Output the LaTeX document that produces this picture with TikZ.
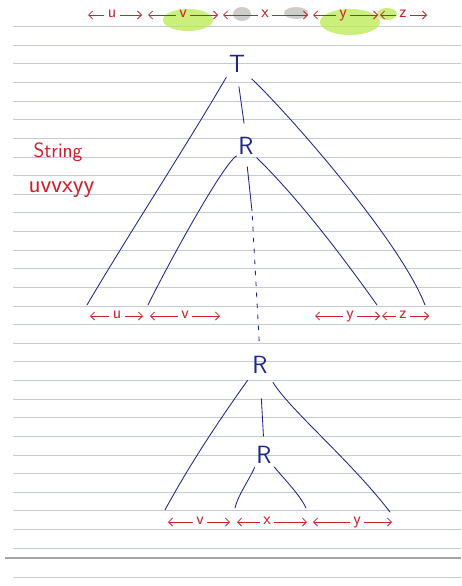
\documentclass[tikz,border=0pt]{standalone}
\usepackage{xcolor}
\usepackage{tikz}
\usetikzlibrary{arrows.meta,calc}
\definecolor{tinta}{RGB}{28,38,140}
\definecolor{rojo}{RGB}{205,32,42}
\definecolor{renglon}{RGB}{192,204,222}
\definecolor{resalte}{RGB}{185,236,80}
\definecolor{borron}{RGB}{165,165,165}

\begin{document}
\begin{tikzpicture}[x=1pt, y=-1pt,
  rama/.style={draw=tinta, line width=0.85pt, line cap=round},
  var/.style={text=tinta, font=\sffamily\Huge, inner sep=0pt},
  tramo/.style={draw=rojo, line width=0.8pt, shorten <=2pt,
                -{Straight Barb[length=4pt,width=8pt]}},
  letra/.style={text=rojo, font=\sffamily\LARGE, inner sep=1.5pt,
                text height=1ex, text depth=0pt},
  nota/.style={text=rojo, font=\sffamily\huge, anchor=west}]
  \useasboundingbox (0,0) rectangle (461,586);
  % hoja rayada
  \fill[white] (0,0) rectangle (461,586);
  \foreach \k in {0,...,28}
    \draw[renglon, line width=0.8pt] (13,26.5+18.63*\k) -- (461,26.5+18.63*\k);
  \draw[borron, line width=1.2pt] (5,558) -- (461,558);
  \draw[renglon, line width=0.8pt] (13,577) -- (461,577);

  % marcas del resaltador
  \fill[resalte, opacity=0.75] (188,20) ellipse [x radius=25, y radius=11];
  \fill[resalte, opacity=0.75] (350,22) ellipse [x radius=30, y radius=13];
  \fill[resalte, opacity=0.75] (387,14) ellipse [x radius=10, y radius=6];
  \fill[borron, opacity=0.55] (242,14) ellipse [x radius=9, y radius=7];
  \fill[borron, opacity=0.55] (296,13) ellipse [x radius=12, y radius=6];

  % cadena
  \node[nota] (cadena) at (30,152) {String};
  \node[nota, font=\sffamily\Huge] (palabra) at (25,190) {uvvxyy};

  % arbol
  \node[var] (T) at (237,64) {T};
  \node[var] (R1) at (246,146) {R};
  \node[var] (R2) at (260,365) {R};
  \node[var] (R3) at (264,455) {R};
  \coordinate (h1) at (87,305);
  \coordinate (h2) at (148,305);
  \coordinate (h3) at (377,305);
  \coordinate (h4) at (425,305);
  \coordinate (h5) at (165,510);
  \coordinate (h6) at (235,508);
  \coordinate (h7) at (306,508);
  \coordinate (h8) at (390,512);
  \coordinate (corte) at (252,211);

  \draw[rama, shorten <=5pt] (T.south west) .. controls (190,140) and (125,240) .. (h1);
  \draw[rama, shorten <=9pt] (T.south east) .. controls (285,110) and (400,240) .. (h4);
  \draw[rama, shorten <=14pt, shorten >=14pt] (T.south) -- (R1.north);
  \draw[rama, shorten <=2pt] (R1.south west) .. controls (222,165) and (165,270) .. (h2);
  \draw[rama, shorten <=4pt] (R1.south east) .. controls (300,200) and (345,260) .. (h3);
  \draw[rama, shorten <=12pt] (R1.south) -- (corte);
  \draw[rama, dash pattern=on 4pt off 7pt, shorten <=5pt, shorten >=10pt] (corte) -- (R2.north);

  \draw[rama, shorten <=8pt] (R2.south west) .. controls (225,412) and (192,460) .. (h5);
  \draw[rama, shorten <=10pt] (R2.south east) .. controls (290,410) and (350,460) .. (h8);
  \draw[rama, shorten <=25pt, shorten >=10pt] (R2.south) -- (R3.north);
  \draw[rama, shorten <=4pt] (R3.south west) .. controls (248,482) and (238,495) .. (h6);
  \draw[rama, shorten <=4pt] (R3.south east) .. controls (285,480) and (300,495) .. (h7);

  % tramos de la cadena
  \foreach \n/\a/\m/\b/\y/\txt in {
      su/88/112/142/15/u, sv/148/183/218/15/v, sx/223/265/308/15/x,
      sy/313/343/378/15/y, sz/380/403/427/15/z,
      mu/90/117/143/316/u, mv/150/185/220/316/v,
      my/315/350/380/316/y, mz/382/403/429/316/z,
      bv/168/200/230/522/v, bx/237/267/307/522/x, by/313/357/392/522/y}{
    \node[letra] (\n) at (\m,\y) {\txt};
    \coordinate (\n-i) at (\a,\y);
    \coordinate (\n-d) at (\b,\y);
    \draw[tramo] (\n) -- (\n-i);
    \draw[tramo] (\n) -- (\n-d);
  }
\end{tikzpicture}
\end{document}
